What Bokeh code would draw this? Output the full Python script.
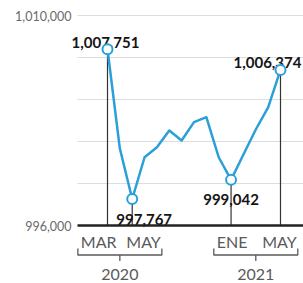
from bokeh.plotting import figure
from bokeh.models import ColumnDataSource, Range1d
from bokeh.core.properties import value
from bokeh.embed import file_html
from bokeh.resources import INLINE

# ---------------- data ----------------
months = ["MAR", "ABR", "MAY", "JUN", "JUL", "AGO", "SEP", "OCT", "NOV", "DIC",
          "ENE", "FEB", "MAR", "ABR", "MAY"]
years = ["2020"] * 10 + ["2021"] * 5
employment = [1007751, 1001130, 997767, 1000550, 1001220, 1002330, 1001670,
              1002890, 1003220, 1000550, 999042, 1000730, 1002400, 1003870,
              1006374]
highlight_idx = [0, 2, 10, 14]
y_ticks = [996000, 998800, 1001600, 1004400, 1007200, 1010000]
y_tick_labels = {996000: "996,000", 1010000: "1,010,000"}
axis_month_labels = ["MAR", "MAY", "ENE", "MAY"]
year_labels = ["2020", "2021"]
year_center_idx = [1, 12]

# ---------------- layout constants ----------------
PX_PER_UNIT = 14000 / 210.0      # data units per pixel (y)
PX_PER_MONTH = 12.357            # pixels per month (x)
BLUE = "#2a9fd8"
GRAY = "#5a5a5a"
FONT = "Lato"


def below(px):
    """data y value px pixels below the baseline"""
    return y_ticks[0] - px * PX_PER_UNIT


def left_of_first(px):
    """data x value px pixels left of the first month"""
    return -px / PX_PER_MONTH


x = list(range(len(employment)))
X_END = 196 / PX_PER_MONTH
GRID_X0 = left_of_first(30)

p = figure(width=303, height=283, output_backend="svg", toolbar_location=None,
           x_axis_location=None, y_axis_location=None,
           x_range=Range1d(left_of_first(107), X_END),
           y_range=Range1d(below(58), y_ticks[-1] + 15 * PX_PER_UNIT),
           min_border_left=0, min_border_right=0, min_border_top=0,
           min_border_bottom=0)
p.outline_line_color = None
p.background_fill_color = "white"
p.border_fill_color = "white"
p.xgrid.visible = False
p.ygrid.visible = False

# horizontal gridlines
n = len(y_ticks)
p.segment(x0=[GRID_X0] * n, x1=[X_END] * n, y0=y_ticks, y1=y_ticks,
          line_color="#dddddd", line_width=1)

# y tick labels (only first and last)
yl = [t for t in y_ticks if t in y_tick_labels]
p.text(x=[GRID_X0] * len(yl), y=yl, text=[y_tick_labels[t] for t in yl],
       x_offset=-6, text_align="right", text_baseline="middle",
       text_font=value(FONT), text_font_size="12.5px", text_color="#6a6a6a")

# drop lines
hl_x = [x[i] for i in highlight_idx]
hl_y = [employment[i] for i in highlight_idx]
p.segment(x0=hl_x, y0=hl_y, x1=hl_x, y1=[y_ticks[0]] * len(hl_x),
          line_color="#333333", line_width=1.2)

# data labels for highlighted points
hl_text = [f"{v:,}" for v in hl_y]
lab_src = ColumnDataSource(dict(x=hl_x, y=hl_y, text=hl_text,
                                xo=[-2, 12, 0, -13], yo=[-7, 21, 20, -7]))
p.text(x="x", y="y", text="text", source=lab_src, x_offset="xo", y_offset="yo",
       text_align="center", text_baseline="alphabetic",
       text_font=value(FONT), text_font_style="bold", text_font_size="15px",
       text_color="#151515")

# baseline axis
p.segment(x0=[GRID_X0], x1=[X_END], y0=[y_ticks[0]], y1=[y_ticks[0]],
          line_color="#222222", line_width=2.5)

# main line
p.line(x, employment, line_color=BLUE, line_width=2.5, line_join="round")
p.scatter(hl_x, hl_y, size=10, fill_color="white", line_color=BLUE,
          line_width=2)

# brackets for years
HALF = 42 / PX_PER_MONTH
b_xs, b_ys = [], []
for c in year_center_idx:
    b_xs.append([c - HALF, c - HALF, c + HALF, c + HALF])
    b_ys.append([below(23), below(29.5), below(29.5), below(23)])
    b_xs.append([c, c])
    b_ys.append([below(29.5), below(35.5)])
p.multi_line(b_xs, b_ys, line_color=GRAY, line_width=1.3)

# year labels
p.text(x=year_center_idx, y=[below(49)] * len(year_center_idx), text=year_labels,
       text_align="center", text_baseline="middle", text_font=value(FONT),
       text_font_size="16px", text_color=GRAY)

# month labels at bracket ends
m_x, m_align, m_xo = [], [], []
for c in year_center_idx:
    m_x += [c - HALF, c + HALF]
    m_align += ["left", "right"]
    m_xo += [3, -1]
m_src = ColumnDataSource(dict(x=m_x, y=[below(15.5)] * 4, text=axis_month_labels,
                              align=m_align, xo=m_xo))
p.text(x="x", y="y", text="text", source=m_src, x_offset="xo",
       text_align="align", text_baseline="middle", text_font=value(FONT),
       text_font_size="16px", text_color=GRAY)

open("out.html", "w").write(file_html(p, INLINE))
